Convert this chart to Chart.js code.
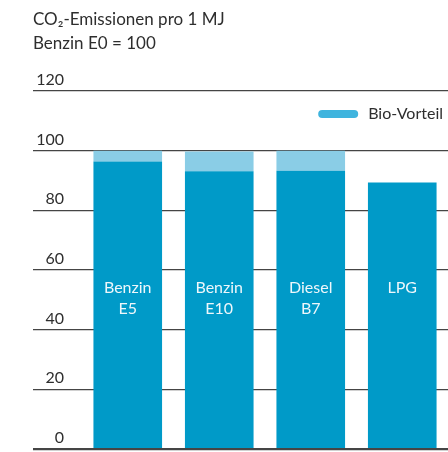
<!DOCTYPE html>
<html>
<head>
<meta charset="utf-8">
<script src="https://cdn.jsdelivr.net/npm/chart.js@4"></script>
<style>
  html, body { margin: 0; padding: 0; background: #fff; }
  #wrap { width: 448px; height: 452px; }
</style>
</head>
<body>
<div id="wrap"><canvas id="co2"></canvas></div>
<script>
// Kraftstoffe und CO2-Werte (Benzin E0 = 100)
const kraftstoffe = [['Benzin', 'E5'], ['Benzin', 'E10'], ['Diesel', 'B7'], ['LPG']];
const emissionen = [96.4, 93.1, 93.3, 89.3];
const bioVorteil = [3.6, 6.6, 6.7, 0];
const yTicks = [0, 20, 40, 60, 80, 100, 120];

const FONT = 'Lato, "Open Sans", sans-serif';
const TEXT = '#2e2e2e';
const DARK = '#009ac8';
const LIGHT = '#8acde6';
const LEGEND_BLUE = '#3fb4de';

// Beschriftung in den Balken (weiß, zweizeilig)
const barLabels = {
  id: 'barLabels',
  afterDatasetsDraw(chart) {
    const { ctx, scales: { y } } = chart;
    const meta = chart.getDatasetMeta(0);
    ctx.save();
    ctx.font = '16px ' + FONT;
    ctx.fillStyle = '#eef7fb';
    ctx.textAlign = 'center';
    ctx.textBaseline = 'middle';
    const y0 = y.getPixelForValue(54);
    chart.data.labels.forEach((lines, i) => {
      const x = meta.data[i].x;
      lines.forEach((t, k) => ctx.fillText(t, x, y0 + k * 21));
    });
    ctx.restore();
  }
};

// Legende nur für "Bio-Vorteil", oben rechts im Diagramm
const bioLegend = {
  id: 'bioLegend',
  afterDraw(chart) {
    const { ctx, chartArea } = chart;
    const ds = chart.data.datasets[1];
    ctx.save();
    ctx.font = '16px ' + FONT;
    const w = ctx.measureText(ds.label).width;
    const tx = chartArea.right - 5 - w;
    const cy = chartArea.top + 23;
    ctx.fillStyle = LEGEND_BLUE;
    ctx.beginPath();
    ctx.roundRect(tx - 50, cy - 4, 40, 8, 4);
    ctx.fill();
    ctx.fillStyle = TEXT;
    ctx.textBaseline = 'middle';
    ctx.fillText(ds.label, tx, cy);
    ctx.restore();
  }
};

new Chart(document.getElementById('co2'), {
  type: 'bar',
  data: {
    labels: kraftstoffe,
    datasets: [
      { label: 'fossil', data: emissionen, backgroundColor: DARK },
      { label: 'Bio-Vorteil', data: bioVorteil, backgroundColor: LIGHT }
    ]
  },
  options: {
    responsive: true,
    maintainAspectRatio: false,
    animation: false,
    layout: { padding: { left: 33, right: 0, top: 0, bottom: 3 } },
    datasets: { bar: { barPercentage: 0.75, categoryPercentage: 1, borderWidth: 0 } },
    plugins: {
      legend: { display: false },
      tooltip: { enabled: false },
      title: {
        display: true,
        text: ['CO\u2082-Emissionen pro 1 MJ', 'Benzin E0 = 100'],
        align: 'start',
        color: TEXT,
        font: { family: FONT, size: 17, weight: 'normal', lineHeight: 24 / 17 },
        padding: { top: 8, bottom: 35 }
      }
    },
    scales: {
      x: { stacked: true, display: false },
      y: {
        stacked: true,
        min: 0,
        max: 120,
        afterBuildTicks(scale) { scale.ticks = yTicks.map(v => ({ value: v })); },
        afterFit(scale) { scale.width = 49; },
        border: { display: false },
        grid: {
          color: '#454545',
          lineWidth: c => (c.tick && c.tick.value === 0 ? 2.2 : 1.2),
          drawTicks: true,
          tickLength: 49
        },
        ticks: {
          color: TEXT,
          font: { family: FONT, size: 16 },
          padding: -31,
          labelOffset: -11
        }
      }
    }
  },
  plugins: [barLabels, bioLegend]
});
</script>
</body>
</html>
